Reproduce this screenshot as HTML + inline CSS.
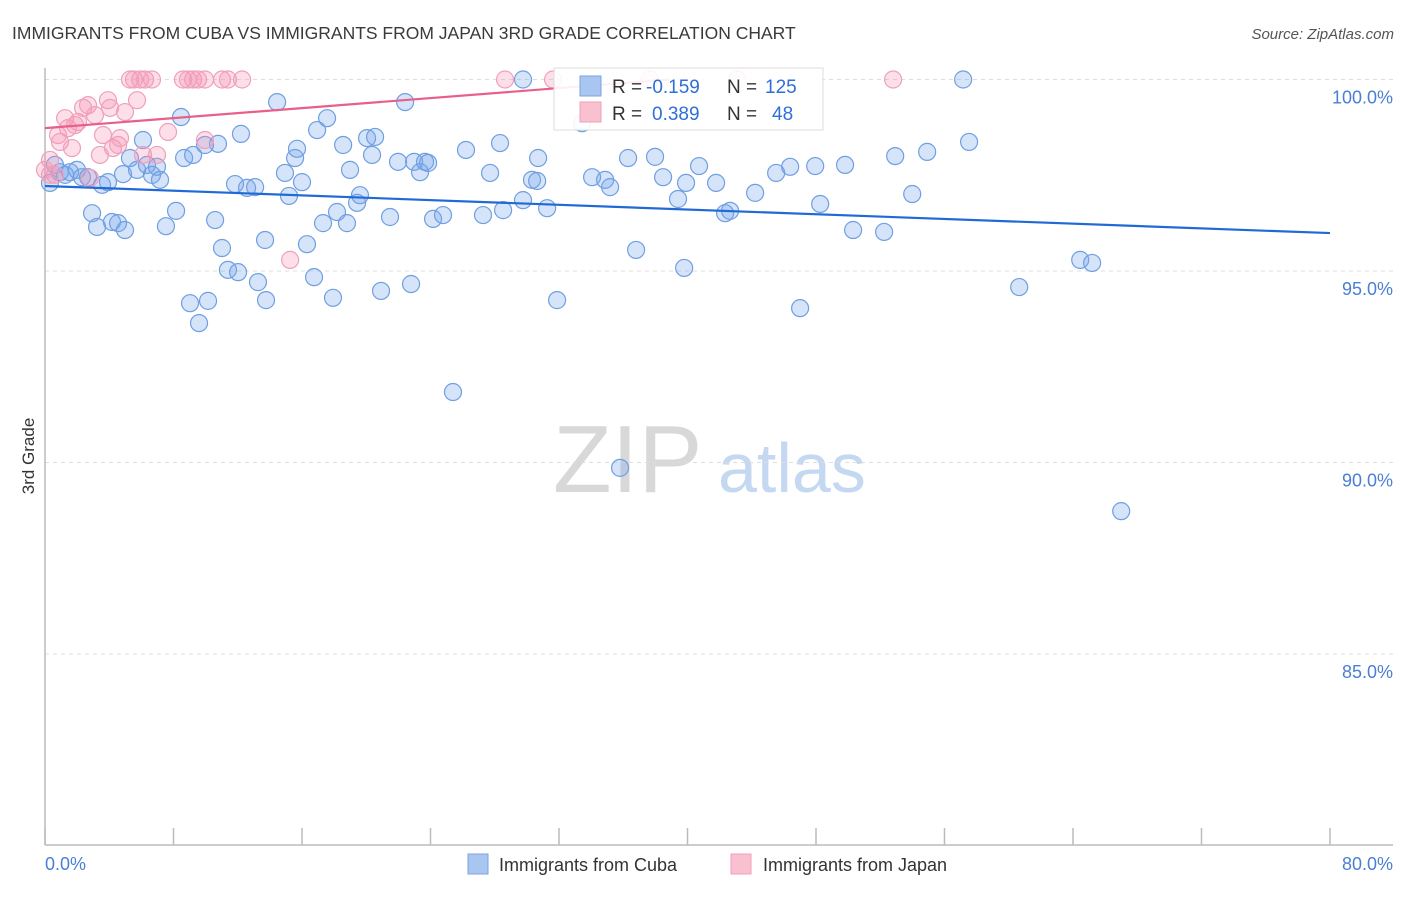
<!DOCTYPE html>
<html><head><meta charset="utf-8"><style>
body{margin:0;background:#fff;font-family:"Liberation Sans",sans-serif;}
svg text{font-family:"Liberation Sans",sans-serif;}
</style></head><body>
<svg id="chart" width="1406" height="892" viewBox="0 0 1406 892" xmlns="http://www.w3.org/2000/svg">
<text x="12" y="39" font-size="17.5" fill="#3a3a3a">IMMIGRANTS FROM CUBA VS IMMIGRANTS FROM JAPAN 3RD GRADE CORRELATION CHART</text>
<text x="1394" y="39" font-size="15" fill="#555" text-anchor="end" font-style="italic">Source: ZipAtlas.com</text>
<g>
<text x="553" y="492" font-size="96" fill="#d8d8d8" font-family="Liberation Serif, serif">ZIP</text>
<text x="718" y="492" font-size="70" fill="#c5d8f2">atlas</text>
</g>
<g id="grid"></g>
<g id="axes"></g>
<g id="pts"></g>
<g id="lines"></g>
<g>
<rect x="554" y="68" width="269" height="62" fill="#fff" fill-opacity="0.9" stroke="#ddd"/>
<rect x="580" y="76" width="21" height="20" fill="#a9c6f0" stroke="#7aa3e0"/>
<rect x="580" y="102" width="21" height="20" fill="#f9c0d0" stroke="#f0a0b8"/>
<text x="612" y="93" font-size="19" fill="#333">R = </text><text x="646" y="93" font-size="19" fill="#2f6fd6">-0.159</text>
<text x="727" y="93" font-size="19" fill="#333">N = </text><text x="765" y="93" font-size="19" fill="#2f6fd6">125</text>
<text x="612" y="120" font-size="19" fill="#333">R = </text><text x="652" y="120" font-size="19" fill="#2f6fd6">0.389</text>
<text x="727" y="120" font-size="19" fill="#333">N = </text><text x="772" y="120" font-size="19" fill="#2f6fd6">48</text>
</g>
<g>
<rect x="468" y="854" width="20" height="20" fill="#a9c6f0" stroke="#7aa3e0"/>
<text x="499" y="871" font-size="18" fill="#333">Immigrants from Cuba</text>
<rect x="731" y="854" width="20" height="20" fill="#f9c0d0" stroke="#f0a0b8"/>
<text x="763" y="871" font-size="18" fill="#333">Immigrants from Japan</text>
</g>
<text transform="translate(34,456) rotate(-90)" font-size="17" fill="#333" text-anchor="middle">3rd Grade</text>
<text x="45" y="870" font-size="18" fill="#4a7fd4">0.0%</text>
<text x="1393" y="870" font-size="18" fill="#4a7fd4" text-anchor="end">80.0%</text>
</svg>
<script>
const yTicks=[100,95,90,85];
const yTickLabels=["100.0%","95.0%","90.0%","85.0%"];
const cubaX=[0.31,0.62,0.93,1.25,1.56,1.99,2.30,2.68,2.93,3.24,3.55,3.92,4.17,4.55,4.98,4.86,5.29,5.73,6.10,6.35,6.66,6.97,7.16,7.53,8.16,8.47,8.66,9.22,9.03,9.59,10.15,9.96,10.59,10.77,11.02,11.39,12.02,11.83,12.20,12.58,13.08,13.26,13.70,13.76,14.45,14.94,15.19,15.57,15.69,16.00,16.31,16.75,16.94,17.31,17.56,17.93,18.18,18.56,18.80,18.99,19.43,19.61,20.05,20.36,20.55,20.92,21.48,21.98,22.42,22.79,22.98,23.35,23.66,23.85,24.16,24.78,25.40,26.21,27.27,27.71,28.33,28.52,29.76,29.76,30.32,30.64,30.70,31.26,31.88,33.44,34.06,34.87,35.18,35.80,36.30,36.80,37.98,38.48,39.41,39.79,39.91,40.72,41.78,42.34,42.65,44.21,45.52,46.39,47.01,47.95,48.26,49.81,50.31,52.24,52.93,53.99,54.92,57.16,57.53,60.65,64.45,65.19,67.00];
const cubaY=[97.30,97.77,97.58,97.51,97.58,97.64,97.45,97.45,96.51,96.15,97.25,97.32,96.28,96.25,96.07,97.53,97.95,97.64,98.42,97.77,97.51,97.72,97.38,96.17,96.57,99.02,97.95,98.03,94.16,93.64,94.22,98.29,96.33,98.32,95.60,95.03,94.97,97.27,98.58,97.17,97.19,94.71,95.81,94.24,99.41,97.56,96.96,97.95,98.19,97.32,95.70,94.84,98.68,96.25,98.99,94.30,96.54,98.29,96.25,97.64,96.78,96.98,98.47,98.03,98.50,94.48,96.41,97.85,99.41,94.66,97.85,97.58,97.85,97.82,96.36,96.46,91.84,98.16,96.46,97.56,98.34,96.59,100.0,96.85,97.38,97.35,97.95,96.64,94.24,98.86,97.45,97.38,97.19,89.86,97.95,95.55,97.98,97.45,96.88,95.08,97.30,97.74,97.30,96.51,96.57,97.04,97.56,97.72,94.03,97.74,96.75,97.77,96.07,96.02,98.00,97.01,98.11,100.0,98.37,94.58,95.29,95.21,88.73];
const japanX=[5.29,5.54,5.92,6.23,6.66,8.59,8.90,9.22,9.53,9.96,11.02,11.39,12.27,28.64,31.63,37.67,43.09,52.80,0.31,0.62,0.81,0.93,1.25,1.43,1.68,1.87,2.05,2.37,2.68,2.80,3.11,3.42,3.61,3.92,4.05,4.23,4.55,4.67,4.98,5.73,6.10,6.97,7.66,9.96,15.26,0.31,0.0];
const japanY=[100,100,100,100,100,100,100,100,100,100,100,100,100,100,100,100,100,100,97.90,97.51,98.55,98.37,98.99,98.73,98.21,98.81,98.89,99.26,99.33,97.43,99.07,98.03,98.55,99.46,99.26,98.21,98.29,98.47,99.15,99.46,98.03,98.03,98.63,98.42,95.29,97.51,97.64];
const cubaTrendX=[0,80], cubaTrendY=[97.22,95.99];
const japanTrendX=[0,38.85], japanTrendY=[98.73,100];
const X0=45,X1=1330,Y100=79.5,PX_PER_PCT=38.3;
const sx=v=>X0+(v/80)*(X1-X0);
const sy=v=>Y100+(100-v)*PX_PER_PCT;
const NS="http://www.w3.org/2000/svg";
function mk(tag,attrs,parent){const e=document.createElementNS(NS,tag);for(const k in attrs)e.setAttribute(k,attrs[k]);parent.appendChild(e);return e;}
const grid=document.getElementById('grid'),axes=document.getElementById('axes'),pts=document.getElementById('pts'),lines=document.getElementById('lines');
yTicks.forEach((t,i)=>{
  const l=mk('line',{x1:X0,x2:1393,y1:sy(t),y2:sy(t),stroke:'#ddd','stroke-dasharray':'4,4'},grid);
  
  
  const tx=mk('text',{x:1393,y:sy(t)+24,'font-size':18,fill:'#4a7fd4','text-anchor':'end'},grid);
  tx.textContent=yTickLabels[i];
  
  
});
let a=mk('line',{x1:X0,x2:X0,y1:68,y2:845,stroke:'#bbb','stroke-width':1.5},axes);


a=mk('line',{x1:X0,x2:1393,y1:845,y2:845,stroke:'#bbb','stroke-width':1.5},axes);


for(let v=0;v<=80;v+=8){
  const t=mk('line',{x1:sx(v),x2:sx(v),y1:828,y2:845,stroke:'#bbb','stroke-width':1.5},axes);
  
  
}
function draw(xs,ys,fill,stroke,name){
  xs.forEach((x,i)=>{
    const c=mk('circle',{cx:sx(x),cy:sy(ys[i]),r:8.5,fill:fill,stroke:stroke,'stroke-width':1.2},pts);
    
    
  });
}
draw(cubaX,cubaY,'rgba(120,165,235,0.3)','#6f9fe2','cuba-point');
draw(japanX,japanY,'rgba(245,150,180,0.3)','#f0a0ba','japan-point');
let tl=mk('line',{x1:sx(cubaTrendX[0]),y1:sy(cubaTrendY[0]),x2:sx(cubaTrendX[1]),y2:sy(cubaTrendY[1]),stroke:'#1f6ad6','stroke-width':2.2},lines);


tl=mk('line',{x1:sx(japanTrendX[0]),y1:sy(japanTrendY[0]),x2:sx(japanTrendX[1]),y2:sy(japanTrendY[1]),stroke:'#e8608a','stroke-width':2.2},lines);


</script>
</body></html>
